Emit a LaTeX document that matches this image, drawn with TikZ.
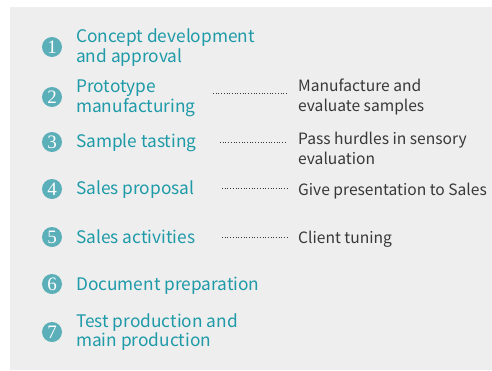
\documentclass[tikz,border=0pt]{standalone}
\usepackage{fontspec}
\newfontfamily\notosans{Noto Sans CJK JP}
\newfontfamily\digitfont{Liberation Serif}
\definecolor{bggray}{HTML}{EEEEEE}
\definecolor{tealtext}{HTML}{1E9AA8}
\definecolor{tealcirc}{HTML}{5AAFB9}
\definecolor{darktext}{HTML}{383838}
\begin{document}
\begin{tikzpicture}[x=1pt,y=-1pt,
  numcirc/.style={circle,fill=tealcirc,minimum size=20pt,inner sep=0pt,text=white,font=\digitfont\fontsize{19}{19}\selectfont},
  stage/.style={anchor=west,inner sep=0pt,align=left,text=tealtext,font=\notosans\fontsize{17.3}{19.5}\selectfont},
  detail/.style={anchor=west,inner sep=0pt,align=left,text=darktext,font=\notosans\fontsize{15.6}{20}\selectfont},
  dotline/.style={draw=darktext,line width=1pt,dash pattern=on 0.9pt off 1.8pt}]
\useasboundingbox (0,0) rectangle (492,370);
\fill[bggray] (10,7) rectangle (492,370);
% circles
\node[numcirc] (c1) at (52,47) {1};
\node[numcirc] (c2) at (52,97) {2};
\node[numcirc] (c3) at (52,142) {3};
\node[numcirc] (c4) at (52,189) {4};
\node[numcirc] (c5) at (52,237) {5};
\node[numcirc] (c6) at (52,284) {6};
\node[numcirc] (c7) at (52,332) {7};
% stages
\node[stage] (s1) at (76,47.5) {Concept development\\and approval};
\node[stage] (s2) at (76,98.5) {Prototype\\manufacturing};
\node[stage] (s3) at (76,142.5) {Sample tasting};
\node[stage] (s4) at (76,189.5) {Sales proposal};
\node[stage] (s5) at (76,236.5) {Sales activities};
\node[stage] (s6) at (76,285.5) {Document preparation};
\node[stage] (s7) at (76,332) {Test production and\\main production};
% details
\node[detail] (d2) at (298,97) {Manufacture and\\evaluate samples};
\node[detail] (d3) at (298,148) {Pass hurdles in sensory\\evaluation};
\node[detail] (d4) at (298,191) {Give presentation to Sales};
\node[detail] (d5) at (298,239) {Client tuning};
% connectors
\coordinate (p2) at (213,93);
\coordinate (p3) at (220,142);
\coordinate (p4) at (222,188);
\coordinate (p5) at (222,237);
\draw[dotline] (p2) -- ([xshift=-11pt]p2 -| d2.west);
\draw[dotline] (p3) -- ([xshift=-11pt]p3 -| d3.west);
\draw[dotline] (p4) -- ([xshift=-11pt]p4 -| d4.west);
\draw[dotline] (p5) -- ([xshift=-11pt]p5 -| d5.west);
\end{tikzpicture}
\end{document}
